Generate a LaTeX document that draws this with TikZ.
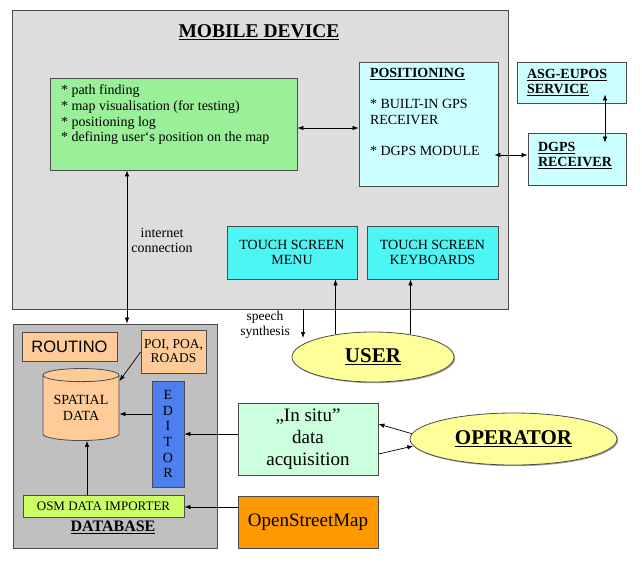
\documentclass[tikz,border=0pt]{standalone}
\usepackage{fontspec}
\setmainfont{Liberation Serif}
\newfontfamily\arialf{Liberation Sans}
\usepackage{tikz}
\usetikzlibrary{shapes.geometric,arrows.meta,shadows}

\definecolor{devgray}{HTML}{DDDDDD}
\definecolor{dbgray}{HTML}{C0C0C0}
\definecolor{funcgreen}{HTML}{99F099}
\definecolor{poscyan}{HTML}{CCFFFF}
\definecolor{touchcyan}{HTML}{4DF5F5}
\definecolor{peach}{HTML}{FFCC99}
\definecolor{editblue}{HTML}{4D80EE}
\definecolor{osmlime}{HTML}{CCFF66}
\definecolor{situgreen}{HTML}{CCFFDD}
\definecolor{osmorange}{HTML}{FF9900}
\definecolor{persyellow}{HTML}{FFFF99}

\newcommand\fs[2]{\fontsize{#1}{#2}\selectfont}

\begin{document}
\begin{tikzpicture}[x=1pt,y=-1pt,>={Latex[length=6pt,width=4.5pt]},
  shade box/.style={drop shadow={shadow xshift=1.2pt,shadow yshift=-1.2pt,fill=black!60,opacity=0.6}},
  area/.style={draw=black!70,line width=0.8pt,rectangle,inner sep=0pt},
  box/.style={area,shade box,align=center,font=\fs{14}{15.7}},
  person/.style={ellipse,draw=black!70,line width=0.8pt,fill=persyellow,inner sep=0pt,shade box,font=\fs{21}{24}\bfseries},
  lbl/.style={align=center,inner sep=0pt,font=\fs{13.5}{15}},
  conn/.style={line width=0.7pt}]
\useasboundingbox[fill=white] (0,0) rectangle (642,565);

% mobile device
\node[area,fill=devgray,minimum width=496pt,minimum height=299pt] (mobile) at (260,159.5) {};
\node[inner sep=0pt,font=\fs{19.5}{22}\bfseries] (mtitle) at (259,32) {\underline{MOBILE DEVICE}};
\node[box,fill=funcgreen,inner xsep=11pt,align=left] (func) at (173.5,124)
  {\begin{minipage}[c][92pt][t]{225pt}\vspace{7pt}%
   * path finding\\{}%
   * map visualisation (for testing)\\{}%
   * positioning log\\{}%
   * defining user`s position on the map\end{minipage}};
\node[box,fill=poscyan,inner xsep=11pt,align=left] (pos) at (428.5,124)
  {\begin{minipage}[c][124pt][t]{117pt}\vspace{6pt}%
   \underline{\textbf{POSITIONING}}\\[15.7pt]
   * BUILT-IN GPS\\
   RECEIVER\\[15.7pt]
   * DGPS MODULE\end{minipage}};
\node[box,fill=touchcyan,minimum width=130pt,minimum height=53pt] (menu) at (292,252.5) {TOUCH SCREEN\\MENU};
\node[box,fill=touchcyan,minimum width=131pt,minimum height=53pt] (keys) at (432.5,252.5) {TOUCH SCREEN\\KEYBOARDS};
\node[lbl,font=\fs{14}{15}] (inet) at (162,240) {internet\\connection};

% outside services
\node[box,fill=poscyan,minimum width=109pt,minimum height=41pt,align=left,text width=89pt] (asg) at (571.5,82.5)
  {\bfseries\underline{ASG-EUPOS}\\\underline{SERVICE}};
\node[box,fill=poscyan,minimum width=98pt,minimum height=52pt,align=left,text width=78pt] (dgps) at (577,159)
  {\begin{minipage}[c][52pt][t]{78pt}\vspace{9pt}\bfseries
   \underline{DGPS}\\\underline{RECEIVER}\end{minipage}};

% database
\node[area,fill=dbgray,minimum width=204pt,minimum height=224pt] (db) at (115,436) {};
\node[box,fill=peach,minimum width=95pt,minimum height=29pt,font=\arialf\fs{16.5}{18}] (routino) at (69.5,346.5) {ROUTINO};
\node[box,fill=peach,minimum width=65pt,minimum height=43pt,font=\fs{13.5}{14}] (poi) at (173.5,351.5) {POI, POA,\\ROADS};
\node[cylinder,shape border rotate=90,aspect=0.24,draw=black!70,line width=0.8pt,fill=peach,
  minimum width=76pt,minimum height=72pt,inner sep=0pt,align=center,font=\fs{14}{15.7}] (spatial) at (81,408) {SPATIAL\\DATA};
\node[box,fill=editblue,minimum width=32pt,minimum height=106pt] (editor) at (168,434) {E\\D\\I\\T\\O\\R};
\node[box,fill=osmlime,minimum width=161pt,minimum height=22pt,font=\fs{13}{14}] (osm) at (103.5,506) {OSM DATA IMPORTER};
\node[inner sep=0pt,font=\fs{16}{18}\bfseries] (dbtitle) at (113,527) {\underline{DATABASE}};

% people and data sources
\node[person,minimum width=162pt,minimum height=50pt] (user) at (373,357) {\underline{USER}};
\node[person,minimum width=207pt,minimum height=52pt] (operator) at (513.5,439) {\underline{OPERATOR}};
\node[box,fill=situgreen,minimum width=140pt,minimum height=72pt,font=\fs{19}{22}] (insitu) at (308,439) {„In situ”\\data\\acquisition};
\node[box,fill=osmorange,minimum width=140pt,minimum height=52pt,font=\fs{19}{22}] (osmap) at (308,522) {OpenStreetMap};
\node[lbl] (speech) at (265,325) {speech\\synthesis};
\coordinate (sp) at (303,338);

% connectors
\draw[conn,<->] (func.east |- 0,128) -- (pos.west |- 0,128);
\draw[conn,<->,shorten <=-4pt] (pos.east |- 0,155) -- (dgps.west |- 0,155);
\draw[conn,<->,shorten <=-9pt,shorten >=-10pt] (asg.south -| 605,0) -- (dgps.north -| 605,0);
\draw[conn,<->] (func.south -| 127,0) -- (db.north -| 127,0);
\draw[conn,->] (mobile.south -| 303,0) -- (sp);
\draw[conn,->] (user.149) -- (user.149 |- menu.south);
\draw[conn,->] (user.31) -- (user.31 |- keys.south);
\draw[conn,->] (poi.west |- 0,352) -- (spatial.35);
\draw[conn,->] (editor.west |- 0,414) -- (spatial.0 |- 0,414);
\draw[conn,->] (insitu.west |- 0,434) -- (editor.east |- 0,434);
\draw[conn,->] (operator.177) -- (insitu.east |- 0,424);
\draw[conn,->] (insitu.east |- 0,454) -- (operator.184);
\draw[conn,->] (osmap.west |- 0,507) -- (osm.east |- 0,507);
\draw[conn,->] (osm.north -| 87,0) -- (spatial.270 -| 87,0);
\end{tikzpicture}
\end{document}
